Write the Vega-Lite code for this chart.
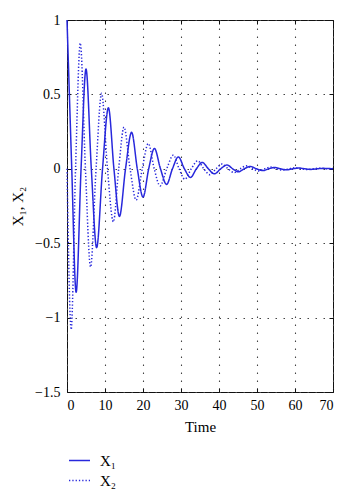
{
  "$schema": "https://vega.github.io/schema/vega-lite/v6.json",
  "width": 266,
  "height": 372,
  "autosize": {"type": "none"},
  "padding": {"left": 67, "top": 20, "right": 18, "bottom": 108},
  "background": "white",
  "data": {
    "values": [
      {"s": "X₁", "t": 0, "v": 1},
      {"s": "X₁", "t": 0.6, "v": 0.52},
      {"s": "X₁", "t": 1.25, "v": 0},
      {"s": "X₁", "t": 2.4, "v": -0.83},
      {"s": "X₁", "t": 3.7, "v": 0},
      {"s": "X₁", "t": 5.0, "v": 0.67},
      {"s": "X₁", "t": 6.4, "v": 0},
      {"s": "X₁", "t": 7.8, "v": -0.53},
      {"s": "X₁", "t": 9.35, "v": 0},
      {"s": "X₁", "t": 10.9, "v": 0.41},
      {"s": "X₁", "t": 12.35, "v": 0},
      {"s": "X₁", "t": 13.8, "v": -0.32},
      {"s": "X₁", "t": 15.4, "v": 0},
      {"s": "X₁", "t": 17.0, "v": 0.245},
      {"s": "X₁", "t": 18.5, "v": 0},
      {"s": "X₁", "t": 20.0, "v": -0.19},
      {"s": "X₁", "t": 21.5, "v": 0},
      {"s": "X₁", "t": 23.0, "v": 0.137},
      {"s": "X₁", "t": 24.6, "v": 0},
      {"s": "X₁", "t": 26.2, "v": -0.105},
      {"s": "X₁", "t": 27.75, "v": 0},
      {"s": "X₁", "t": 29.3, "v": 0.08},
      {"s": "X₁", "t": 30.9, "v": 0},
      {"s": "X₁", "t": 32.5, "v": -0.058},
      {"s": "X₁", "t": 34.05, "v": 0},
      {"s": "X₁", "t": 35.6, "v": 0.043},
      {"s": "X₁", "t": 37.2, "v": 0},
      {"s": "X₁", "t": 38.8, "v": -0.034},
      {"s": "X₁", "t": 40.45, "v": 0},
      {"s": "X₁", "t": 42.1, "v": 0.026},
      {"s": "X₁", "t": 43.6, "v": 0},
      {"s": "X₁", "t": 45.1, "v": -0.02},
      {"s": "X₁", "t": 46.65, "v": 0},
      {"s": "X₁", "t": 48.2, "v": 0.016},
      {"s": "X₁", "t": 49.85, "v": 0},
      {"s": "X₁", "t": 51.5, "v": -0.012},
      {"s": "X₁", "t": 53.05, "v": 0},
      {"s": "X₁", "t": 54.6, "v": 0.009},
      {"s": "X₁", "t": 56.2, "v": 0},
      {"s": "X₁", "t": 57.8, "v": -0.007},
      {"s": "X₁", "t": 59.4, "v": 0},
      {"s": "X₁", "t": 61.0, "v": 0.005},
      {"s": "X₁", "t": 62.6, "v": 0},
      {"s": "X₁", "t": 64.2, "v": -0.004},
      {"s": "X₁", "t": 65.8, "v": 0},
      {"s": "X₁", "t": 67.4, "v": 0.003},
      {"s": "X₁", "t": 70, "v": 0},
      {"s": "X₂", "t": 0, "v": 0},
      {"s": "X₂", "t": 1.1, "v": -1.08},
      {"s": "X₂", "t": 2.25, "v": 0},
      {"s": "X₂", "t": 3.5, "v": 0.845},
      {"s": "X₂", "t": 4.85, "v": 0},
      {"s": "X₂", "t": 6.2, "v": -0.66},
      {"s": "X₂", "t": 7.65, "v": 0},
      {"s": "X₂", "t": 9.1, "v": 0.507},
      {"s": "X₂", "t": 10.65, "v": 0},
      {"s": "X₂", "t": 12.2, "v": -0.356},
      {"s": "X₂", "t": 13.6, "v": 0},
      {"s": "X₂", "t": 15.0, "v": 0.28},
      {"s": "X₂", "t": 16.6, "v": 0},
      {"s": "X₂", "t": 18.2, "v": -0.21},
      {"s": "X₂", "t": 19.8, "v": 0},
      {"s": "X₂", "t": 21.4, "v": 0.17},
      {"s": "X₂", "t": 22.95, "v": 0},
      {"s": "X₂", "t": 24.5, "v": -0.115},
      {"s": "X₂", "t": 26.25, "v": 0},
      {"s": "X₂", "t": 28.0, "v": 0.092},
      {"s": "X₂", "t": 29.5, "v": 0},
      {"s": "X₂", "t": 31.0, "v": -0.07},
      {"s": "X₂", "t": 32.7, "v": 0},
      {"s": "X₂", "t": 34.4, "v": 0.054},
      {"s": "X₂", "t": 36.0, "v": 0},
      {"s": "X₂", "t": 37.6, "v": -0.04},
      {"s": "X₂", "t": 39.2, "v": 0},
      {"s": "X₂", "t": 40.8, "v": 0.032},
      {"s": "X₂", "t": 42.4, "v": 0},
      {"s": "X₂", "t": 44.0, "v": -0.026},
      {"s": "X₂", "t": 45.6, "v": 0},
      {"s": "X₂", "t": 47.2, "v": 0.02},
      {"s": "X₂", "t": 48.8, "v": 0},
      {"s": "X₂", "t": 50.4, "v": -0.015},
      {"s": "X₂", "t": 52.0, "v": 0},
      {"s": "X₂", "t": 53.6, "v": 0.012},
      {"s": "X₂", "t": 55.2, "v": 0},
      {"s": "X₂", "t": 56.8, "v": -0.009},
      {"s": "X₂", "t": 58.4, "v": 0},
      {"s": "X₂", "t": 60.0, "v": 0.007},
      {"s": "X₂", "t": 61.6, "v": 0},
      {"s": "X₂", "t": 63.2, "v": -0.005},
      {"s": "X₂", "t": 64.8, "v": 0},
      {"s": "X₂", "t": 66.4, "v": 0.004},
      {"s": "X₂", "t": 68.2, "v": 0},
      {"s": "X₂", "t": 70, "v": 0.002}
    ]
  },
  "layer": [
    {
      "mark": {"type": "line", "interpolate": "monotone", "color": "#2828dc", "strokeWidth": 1.5},
      "encoding": {
        "x": {
          "field": "t", "type": "quantitative",
          "scale": {"domain": [0, 70], "nice": false, "zero": false},
          "axis": {"values": [0, 10, 20, 30, 40, 50, 60, 70], "title": "Time", "grid": true, "tickSize": -4, "labelPadding": 10, "titlePadding": 7}
        },
        "y": {
          "field": "v", "type": "quantitative",
          "scale": {"domain": [-1.5, 1], "nice": false, "zero": false},
          "axis": {"values": [-1.5, -1, -0.5, 0, 0.5, 1], "format": "~g", "title": "X₁, X₂", "grid": true, "tickSize": -4, "labelPadding": 11, "titlePadding": 9}
        },
        "strokeDash": {
          "field": "s", "type": "nominal",
          "scale": {"domain": ["X₁", "X₂"], "range": [[1, 0], [1.3, 2]]},
          "legend": {
            "orient": "none", "legendX": 1, "legendY": 429, "direction": "vertical",
            "title": null, "symbolType": "stroke", "symbolSize": 441,
            "symbolStrokeWidth": 1.5, "symbolStrokeColor": "#2828dc",
            "labelFontSize": 15, "labelFont": "Liberation Serif", "labelColor": "black",
            "rowPadding": 0, "labelOffset": 9, "padding": 0
          }
        }
      }
    },
    {
      "mark": {"type": "line", "opacity": 0},
      "encoding": {
        "x": {
          "field": "t", "type": "quantitative",
          "axis": {"orient": "top", "values": [0, 10, 20, 30, 40, 50, 60, 70], "labels": false, "title": null, "grid": false, "domain": false, "tickSize": -4}
        },
        "y": {
          "field": "v", "type": "quantitative",
          "axis": {"orient": "right", "values": [-1.5, -1, -0.5, 0, 0.5, 1], "labels": false, "title": null, "grid": false, "domain": false, "tickSize": -4}
        },
        "detail": {"field": "s", "type": "nominal"}
      }
    }
  ],
  "resolve": {"axis": {"x": "independent", "y": "independent"}},
  "config": {
    "font": "Liberation Serif",
    "view": {"stroke": "#111", "strokeWidth": 1},
    "axis": {
      "domain": false,
      "tickColor": "#111",
      "tickWidth": 1,
      "labelFont": "Liberation Serif",
      "labelFontSize": 14,
      "labelColor": "black",
      "titleFont": "Liberation Serif",
      "titleFontSize": 15,
      "titleFontWeight": "normal",
      "titleColor": "black",
      "gridColor": "#444",
      "gridDash": [1.5, 6.5],
      "gridWidth": 1.1,
      "gridOpacity": 1
    }
  }
}
